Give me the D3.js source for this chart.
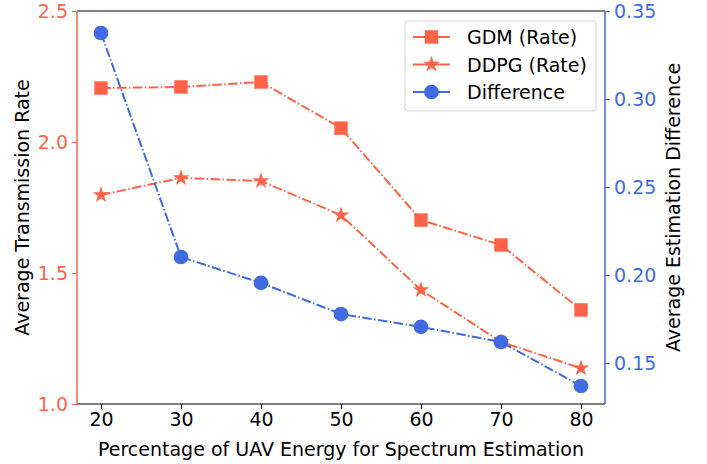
<html>
<head>
<style>
  body { margin: 0; background: white; }
  text { font-family: "DejaVu Sans", sans-serif; }
</style>
<script src="https://cdn.jsdelivr.net/npm/d3@7"></script>
</head>
<body>
<div id="chart"></div>
<script>
var energy = [20, 30, 40, 50, 60, 70, 80];
var gdmRate = [2.206, 2.21, 2.229, 2.053, 1.702, 1.607, 1.359];
var ddpgRate = [1.798, 1.863, 1.851, 1.721, 1.435, 1.237, 1.137];
var difference = [0.3375, 0.2102, 0.1955, 0.1778, 0.1705, 0.1619, 0.1369];
var leftTicks = [1.0, 1.5, 2.0, 2.5];
var rightTicks = [0.15, 0.20, 0.25, 0.30, 0.35];

var orange = '#ff6347', blue = '#4169e1';
var L = 77, R = 605, T = 11, B = 404;
var fs = 19;

var svg = d3.select('#chart').append('svg')
    .attr('width', 707).attr('height', 464);

var x = d3.scaleLinear().domain([17, 83]).range([L, R]);
var yL = d3.scaleLinear().domain([1.0, 2.5]).range([B, T]);
var yR = d3.scaleLinear().domain([0.12667, 0.35]).range([B, T]);

// axes
var xAxis = svg.append('g').attr('transform', 'translate(0,' + B + ')')
    .call(d3.axisBottom(x).tickValues(energy).tickSize(5).tickPadding(4));
xAxis.selectAll('text').attr('font-size', fs).attr('fill', '#000');

var lAxis = svg.append('g').attr('transform', 'translate(' + L + ',0)')
    .call(d3.axisLeft(yL).tickValues(leftTicks).tickFormat(d3.format('.1f')).tickSize(5).tickPadding(4));
lAxis.selectAll('text').attr('font-size', fs).attr('fill', orange);
lAxis.selectAll('line').attr('stroke', orange);

var rAxis = svg.append('g').attr('transform', 'translate(' + R + ',0)')
    .call(d3.axisRight(yR).tickValues(rightTicks).tickFormat(d3.format('.2f')).tickSize(5).tickPadding(4));
rAxis.selectAll('text').attr('font-size', fs).attr('fill', blue);
rAxis.selectAll('line').attr('stroke', blue);

svg.selectAll('.domain').remove();
// spines
svg.append('line').attr('x1', L).attr('x2', R).attr('y1', T).attr('y2', T).attr('stroke', '#000').attr('stroke-width', 1);
svg.append('line').attr('x1', L).attr('x2', R).attr('y1', B).attr('y2', B).attr('stroke', '#000').attr('stroke-width', 1);
svg.append('line').attr('x1', L).attr('x2', L).attr('y1', T).attr('y2', B).attr('stroke', orange).attr('stroke-width', 1.5);
svg.append('line').attr('x1', R).attr('x2', R).attr('y1', T).attr('y2', B).attr('stroke', blue).attr('stroke-width', 1.5);

// labels
svg.append('text').attr('x', (L + R) / 2).attr('y', 456).attr('text-anchor', 'middle')
    .attr('font-size', fs).text('Percentage of UAV Energy for Spectrum Estimation');
svg.append('text').attr('transform', 'translate(29,' + (T + B) / 2 + ') rotate(-90)')
    .attr('text-anchor', 'middle').attr('font-size', fs).text('Average Transmission Rate');
svg.append('text').attr('transform', 'translate(680,' + (T + B) / 2 + ') rotate(-90)')
    .attr('text-anchor', 'middle').attr('font-size', fs).text('Average Estimation Difference');

var dash = '9.6,2.4,1.5,2.4';
var star = d3.symbol().type(d3.symbolStar).size(85);
var sq = d3.symbol().type(d3.symbolSquare).size(180);
var circ = d3.symbol().type(d3.symbolCircle).size(170);

var series = [
  { name: 'GDM (Rate)', vals: gdmRate, y: yL, color: orange, sym: sq },
  { name: 'DDPG (Rate)', vals: ddpgRate, y: yL, color: orange, sym: star },
  { name: 'Difference', vals: difference, y: yR, color: blue, sym: circ }
];

series.forEach(function(s) {
  var line = d3.line().x(function(d, i) { return x(energy[i]); }).y(function(d) { return s.y(d); });
  svg.append('path').datum(s.vals).attr('d', line)
      .attr('fill', 'none').attr('stroke', s.color).attr('stroke-width', 2)
      .attr('stroke-dasharray', dash);
  svg.selectAll(null).data(s.vals).enter().append('path')
      .attr('d', s.sym)
      .attr('transform', function(d, i) { return 'translate(' + x(energy[i]) + ',' + s.y(d) + ')'; })
      .attr('fill', s.color);
});

// legend
var lg = svg.append('g').attr('transform', 'translate(405,21)');
lg.append('rect').attr('width', 191).attr('height', 90).attr('rx', 3)
    .attr('fill', 'white').attr('fill-opacity', 0.8).attr('stroke', '#d6d6d6');
series.forEach(function(s, i) {
  var yy = 16 + i * 27.5;
  lg.append('line').attr('x1', 8).attr('x2', 45).attr('y1', yy).attr('y2', yy)
      .attr('stroke', s.color).attr('stroke-width', 2);
  lg.append('path').attr('d', s.sym).attr('transform', 'translate(26.5,' + yy + ')').attr('fill', s.color);
  lg.append('text').attr('x', 62).attr('y', yy + 7).attr('font-size', fs).text(s.name);
});
</script>
</body>
</html>
